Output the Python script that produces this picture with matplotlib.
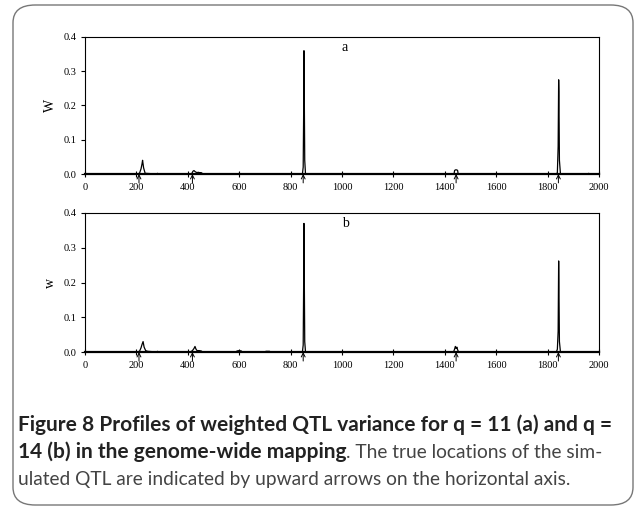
import matplotlib.pyplot as plt
from matplotlib.patches import FancyBboxPatch

# profile of panel a (q = 11)
pos_a = [0, 200, 212, 218, 222, 224, 228, 234, 280, 282, 284, 410, 416, 420, 424, 430, 436, 440, 446, 452,
         458, 596, 600, 604, 700, 704, 720, 724, 846, 849, 851, 852, 853, 855, 858, 1436, 1438, 1441,
         1447, 1450, 1452, 1834, 1838, 1841, 1843, 1844, 1846, 1850, 1958, 1960, 1962, 2000]
w_a = [0, 0, 0.002, 0.015, 0.030, 0.040, 0.018, 0.002, 0, 0.002, 0, 0, 0.002, 0.008, 0.010, 0.006, 0.004,
       0.005, 0.004, 0.004, 0.001, 0, 0.002, 0, 0, 0.001, 0.001, 0, 0, 0.02, 0.20, 0.36, 0.26, 0.04, 0,
       0, 0.010, 0.012, 0.012, 0.010, 0, 0, 0.004, 0.08, 0.275, 0.24, 0.04, 0, 0, 0.002, 0, 0]

# profile of panel b (q = 14)
pos_b = [0, 200, 212, 218, 222, 226, 230, 236, 244, 280, 282, 284, 410, 418, 424, 428, 432, 436, 444, 452,
         458, 586, 592, 600, 608, 612, 700, 704, 718, 722, 846, 849, 851, 852, 853, 855, 858, 1434, 1438,
         1441, 1444, 1447, 1450, 1454, 1834, 1838, 1841, 1843, 1844, 1846, 1850, 2000]
w_b = [0, 0, 0.002, 0.012, 0.022, 0.030, 0.014, 0.004, 0.002, 0, 0.002, 0, 0, 0.004, 0.010, 0.016, 0.008,
       0.004, 0.004, 0.003, 0, 0, 0.003, 0.004, 0.003, 0, 0, 0.002, 0.002, 0, 0, 0.02, 0.22, 0.37, 0.25,
       0.03, 0, 0, 0.008, 0.016, 0.010, 0.014, 0.006, 0, 0, 0.008, 0.06, 0.262, 0.20, 0.03, 0, 0]

qtl = [210, 418, 849, 1444, 1842]
xticks = [0, 200, 400, 600, 800, 1000, 1200, 1400, 1600, 1800, 2000]
yticks = [0.0, 0.1, 0.2, 0.3, 0.4]

serif = ['Liberation Serif', 'DejaVu Serif']

fig = plt.figure(figsize=(6.36, 5.07), dpi=100)

border = FancyBboxPatch((13 / 636, 2 / 507), 620 / 636, 500 / 507,
                        boxstyle="round,pad=0,rounding_size=0.035",
                        transform=fig.transFigure, facecolor='none',
                        edgecolor='#777777', linewidth=1.0, zorder=-1)
fig.patches.append(border)

W, H = 636, 507
panels = [
    (pos_a, w_a, 'W', 'a', 37, 174),
    (pos_b, w_b, 'w', 'b', 213, 352),
]

for xs, ws, ylab, tag, top, bottom in panels:
    ax = fig.add_axes([85 / W, 1 - bottom / H, 514 / W, (bottom - top) / H])
    ax.patch.set_alpha(0)
    ax.plot(xs, ws, color='black', linewidth=0.9)
    ax.set_xlim(0, 2000)
    ax.set_ylim(0, 0.4)
    ax.set_xticks(xticks)
    ax.set_yticks(yticks)
    ax.set_xticklabels([str(t) for t in xticks], family=serif, fontsize=7.5)
    ax.set_yticklabels(['%.1f' % t for t in yticks], family=serif, fontsize=7.5)
    ax.tick_params(axis='x', direction='inout', length=5, width=0.8, pad=4)
    ax.tick_params(axis='y', direction='out', length=3, width=0.8, pad=3)
    for s in ['top', 'right', 'left']:
        ax.spines[s].set_linewidth(0.8)
    ax.spines['bottom'].set_linewidth(1.6)
    ax.set_ylabel(ylab, family=serif, fontsize=10, labelpad=5)
    ax.text(1000, 0.37, tag, family=serif, fontsize=10, ha='left', va='center')
    for q in qtl:
        ax.annotate('', xy=(q, 0), xytext=(q, -0.026),
                    arrowprops=dict(arrowstyle='->', color='black', lw=0.7,
                                    mutation_scale=7, shrinkA=0, shrinkB=0),
                    annotation_clip=False)

# caption
cap = ['Lato', 'DejaVu Sans']
fb, fr = 15, 13.8
x0 = 18 / W
fig.text(x0, 1 - 431 / H, 'Figure 8 Profiles of weighted QTL variance for q = 11 (a) and q =',
         family=cap, fontsize=fb, fontweight='bold', color='#222222', va='baseline')
t2 = fig.text(x0, 1 - 458 / H, '14 (b) in the genome-wide mapping',
              family=cap, fontsize=fb, fontweight='bold', color='#222222', va='baseline')
fig.canvas.draw()
ext = t2.get_window_extent(renderer=fig.canvas.get_renderer())
fig.text(ext.x1 / W, 1 - 458 / H, '. The true locations of the sim-',
         family=cap, fontsize=fr, color='#444444', va='baseline')
fig.text(x0, 1 - 485 / H, 'ulated QTL are indicated by upward arrows on the horizontal axis.',
         family=cap, fontsize=fr, color='#444444', va='baseline')

fig.savefig('out.png', dpi=100)
